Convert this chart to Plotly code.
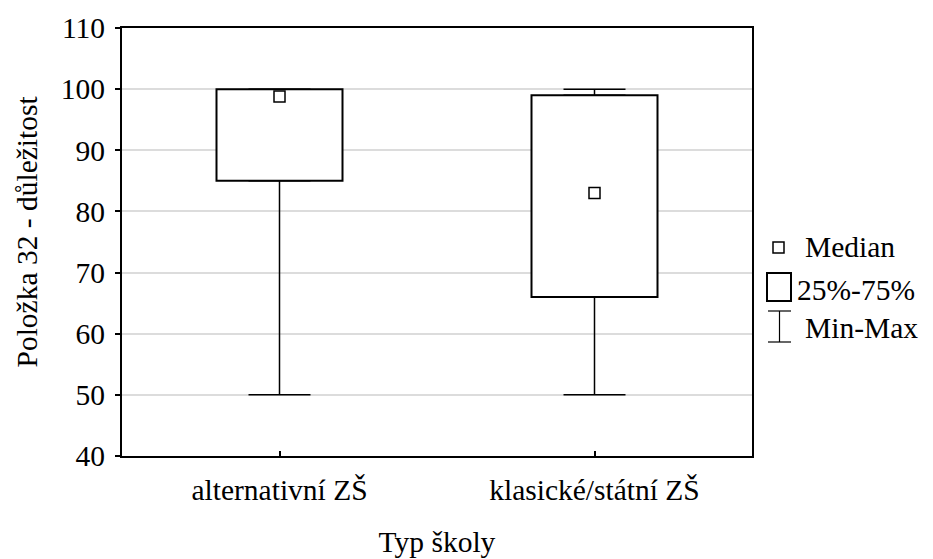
import plotly.graph_objects as go

# Summary statistics per school type
categories = ["alternativní ZŠ", "klasické/státní ZŠ"]
q1 = [85, 66]
q3 = [100, 99]
medians = [98.8, 83]
mins = [50, 50]
maxs = [100, 100]

y_ticks = [40, 50, 60, 70, 80, 90, 100, 110]

FONT = "Liberation Serif"
SIZE = 29.5
x_pos = list(range(len(categories)))


def txt():
    return dict(family=FONT, size=SIZE, color="black")


fig = go.Figure()

# Interquartile boxes (white fill, black outline)
fig.add_trace(go.Bar(
    x=x_pos, base=q1, y=[b - a for a, b in zip(q1, q3)],
    width=0.4,
    marker=dict(color="white", line=dict(color="black", width=2)),
    showlegend=False, hoverinfo="skip",
))

# Lower whiskers: from Q1 down to the minimum
fig.add_trace(go.Scatter(
    x=x_pos, y=q1, mode="markers",
    marker=dict(size=1, color="rgba(0,0,0,0)"),
    error_y=dict(type="data", symmetric=False,
                 array=[0] * len(q1),
                 arrayminus=[a - m for a, m in zip(q1, mins)],
                 color="black", thickness=1.5, width=31),
    showlegend=False, hoverinfo="skip",
))

# Upper whiskers: from Q3 up to the maximum
fig.add_trace(go.Scatter(
    x=x_pos, y=q3, mode="markers",
    marker=dict(size=1, color="rgba(0,0,0,0)"),
    error_y=dict(type="data", symmetric=False,
                 array=[m - b for b, m in zip(q3, maxs)],
                 arrayminus=[0] * len(q3),
                 color="black", thickness=1.5, width=31),
    showlegend=False, hoverinfo="skip",
))

# Medians as open squares
fig.add_trace(go.Scatter(
    x=x_pos, y=medians, mode="markers",
    marker=dict(symbol="square", size=11, color="white",
                line=dict(color="black", width=1.5)),
    showlegend=False, hoverinfo="skip",
))


# Pixel -> paper helpers for the hand-built legend and y title
def px_x(v):
    return (v - 122) / 630


def px_y(v):
    return (456 - v) / 428


shapes = [
    # Median symbol
    dict(type="rect", xref="paper", yref="paper",
         x0=px_x(773), x1=px_x(784), y0=px_y(253), y1=px_y(242),
         line=dict(color="black", width=1.5), fillcolor="white"),
    # 25%-75% symbol
    dict(type="rect", xref="paper", yref="paper",
         x0=px_x(767), x1=px_x(791), y0=px_y(301), y1=px_y(273),
         line=dict(color="black", width=2), fillcolor="white"),
    # Min-Max symbol
    dict(type="line", xref="paper", yref="paper",
         x0=px_x(779.5), x1=px_x(779.5), y0=px_y(342), y1=px_y(311),
         line=dict(color="black", width=1.2)),
    dict(type="line", xref="paper", yref="paper",
         x0=px_x(768), x1=px_x(791), y0=px_y(311), y1=px_y(311),
         line=dict(color="black", width=1.2)),
    dict(type="line", xref="paper", yref="paper",
         x0=px_x(768), x1=px_x(791), y0=px_y(342), y1=px_y(342),
         line=dict(color="black", width=1.2)),
]

legend_labels = [("Median", 803, 247), ("25%-75%", 795, 290), ("Min-Max", 803, 328)]
annotations = [
    dict(text=t, xref="paper", yref="paper",
         x=px_x(xl), y=px_y(yc),
         xanchor="left", yanchor="middle", showarrow=False, font=txt())
    for t, xl, yc in legend_labels
]
# Y axis title
annotations.append(dict(
    text="Položka 32 - důležitost", xref="paper", yref="paper",
    x=px_x(26), y=px_y(231.5), textangle=-90,
    xanchor="center", yanchor="middle", showarrow=False, font=txt(),
))

fig.update_layout(
    width=933, height=559,
    margin=dict(l=122, r=181, t=28, b=103),
    paper_bgcolor="white", plot_bgcolor="white",
    font=txt(),
    showlegend=False,
    shapes=shapes,
    annotations=annotations,
    xaxis=dict(
        range=[-0.5, 1.5],
        tickmode="array", tickvals=x_pos, ticktext=categories,
        tickfont=txt(),
        ticks="inside", ticklen=5, tickwidth=1.5, tickcolor="black",
        showline=True, linecolor="black", linewidth=2, mirror=True,
        showgrid=False, zeroline=False,
        title=dict(text="Typ školy", font=txt(), standoff=26),
        ticklabelstandoff=7,
        automargin=False,
    ),
    yaxis=dict(
        range=[40, 110],
        tickmode="array", tickvals=y_ticks,
        tickfont=txt(),
        ticks="outside", ticklen=5, tickwidth=1.5, tickcolor="black",
        showline=True, linecolor="black", linewidth=2, mirror=True,
        showgrid=True, gridcolor="#dcdcdc", gridwidth=1.5,
        zeroline=False,
        ticklabelstandoff=4,
        automargin=False,
    ),
)

fig.write_html("out.html")
